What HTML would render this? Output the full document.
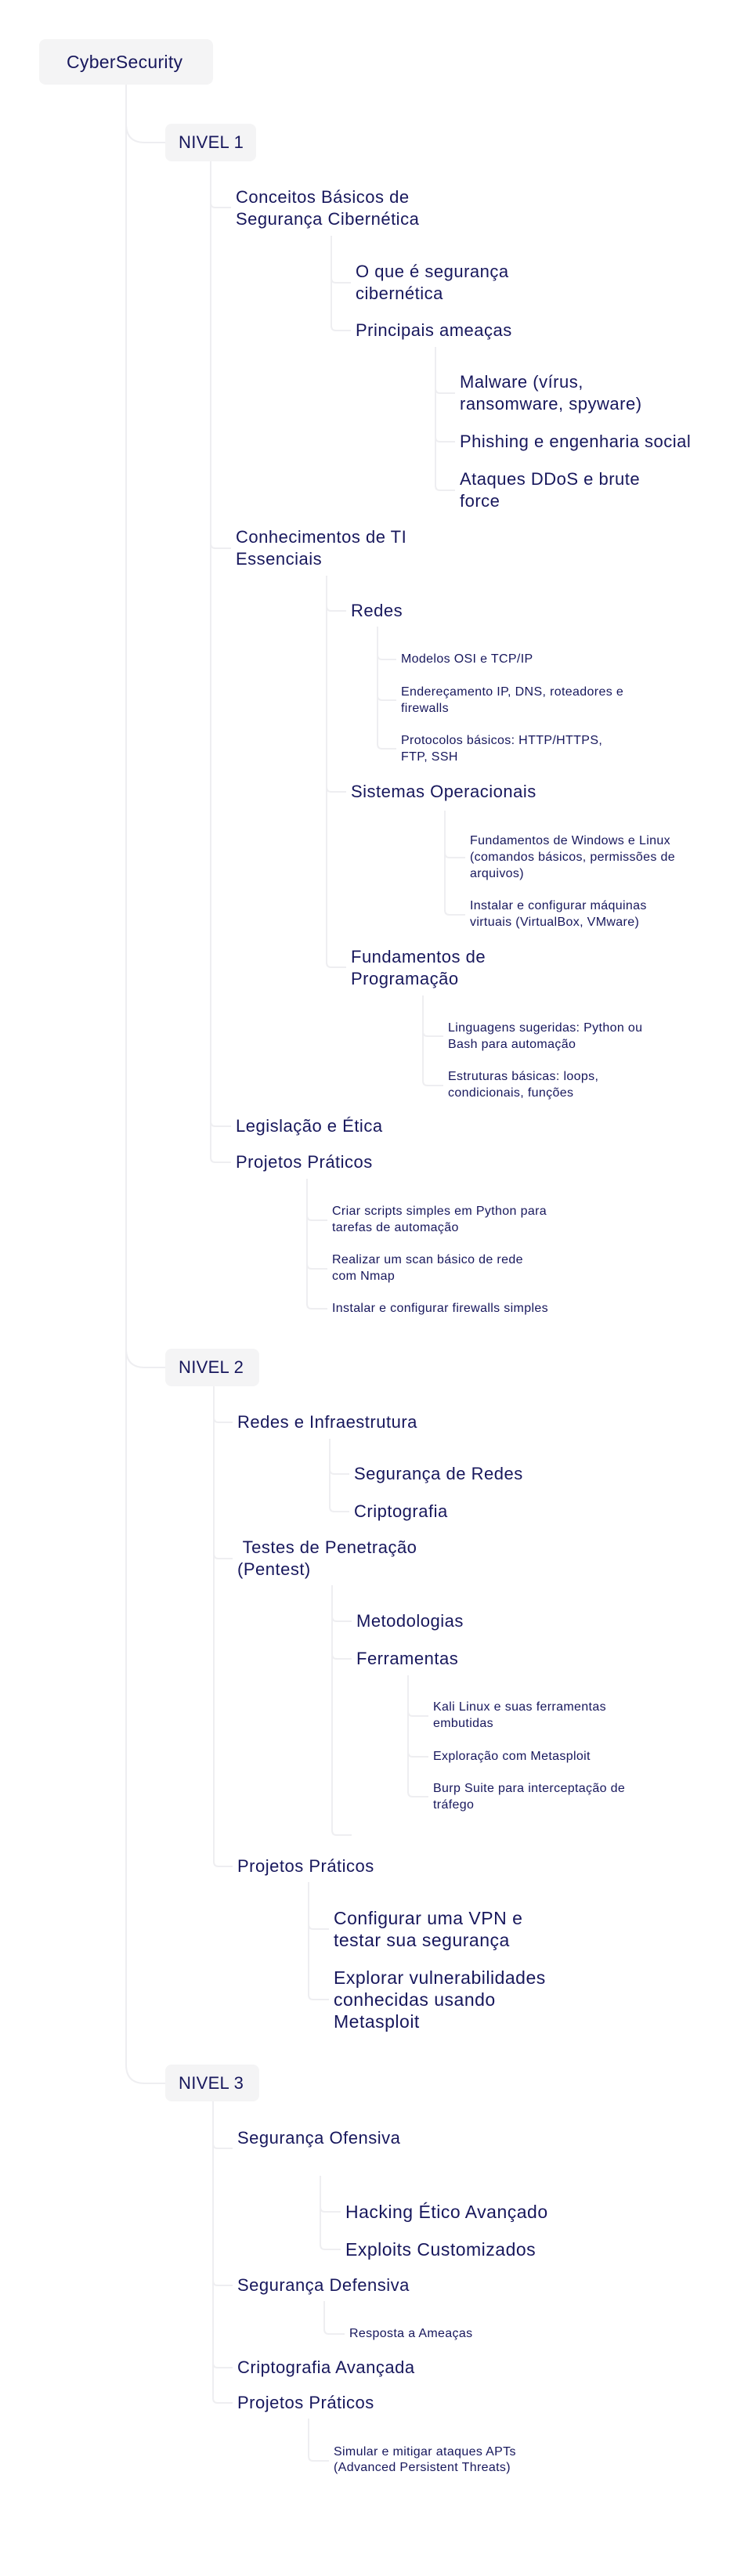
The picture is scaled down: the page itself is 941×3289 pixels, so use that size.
<!DOCTYPE html>
<html><head><meta charset="utf-8"><style>
html,body{margin:0;padding:0;background:#fff;}
body{width:941px;height:3289px;position:relative;overflow:hidden;font-family:"Liberation Sans",sans-serif;color:#17175c;}
.t{position:absolute;white-space:nowrap;}
.b{font-size:22px;line-height:28px;letter-spacing:0.5px;}
.s{font-size:16px;line-height:21px;letter-spacing:0.35px;}
.box{position:absolute;background:#f4f4f5;border-radius:8px;}
.bt{position:absolute;font-size:22px;line-height:30px;white-space:nowrap;letter-spacing:0.3px;}
svg{position:absolute;left:0;top:0;}
</style></head><body>
<svg width="941" height="3289" fill="none" stroke="#eeeef1" stroke-width="2">
<path d="M161 108 V2636 Q161 2660 185 2660 H211"/>
<path d="M161 158 Q161 182 185 182 H211"/>
<path d="M161 1722 Q161 1746 185 1746 H211"/>
<path d="M269 206 V1478 Q269 1484 275 1484 H295"/>
<path d="M269 259 Q269 265 275 265 H295"/>
<path d="M269 694 Q269 700 275 700 H295"/>
<path d="M269 1432 Q269 1438 275 1438 H295"/>
<path d="M423 301 V416 Q423 422 429 422 H448"/>
<path d="M423 355 Q423 361 429 361 H448"/>
<path d="M556 443 V620 Q556 626 562 626 H581"/>
<path d="M556 496 Q556 502 562 502 H581"/>
<path d="M556 558 Q556 564 562 564 H581"/>
<path d="M417 735 V1229 Q417 1235 423 1235 H442"/>
<path d="M417 774 Q417 780 423 780 H442"/>
<path d="M417 1005 Q417 1011 423 1011 H442"/>
<path d="M482 800 V950 Q482 956 488 956 H506"/>
<path d="M482 836 Q482 842 488 842 H506"/>
<path d="M482 888 Q482 894 488 894 H506"/>
<path d="M568 1035 V1162 Q568 1168 574 1168 H594"/>
<path d="M568 1089 Q568 1095 574 1095 H594"/>
<path d="M540 1271 V1380 Q540 1386 546 1386 H566"/>
<path d="M540 1317 Q540 1323 546 1323 H566"/>
<path d="M392 1505 V1665 Q392 1671 398 1671 H418"/>
<path d="M392 1552 Q392 1558 398 1558 H418"/>
<path d="M392 1614 Q392 1620 398 1620 H418"/>
<path d="M273 1770 V2377 Q273 2383 279 2383 H297"/>
<path d="M273 1810 Q273 1816 279 1816 H297"/>
<path d="M273 1984 Q273 1990 279 1990 H297"/>
<path d="M421 1837 V1924 Q421 1930 427 1930 H446"/>
<path d="M421 1876 Q421 1882 427 1882 H446"/>
<path d="M424 2024 V2337 Q424 2343 430 2343 H449"/>
<path d="M424 2064 Q424 2070 430 2070 H449"/>
<path d="M424 2112 Q424 2118 430 2118 H449"/>
<path d="M521 2139 V2288 Q521 2294 527 2294 H547"/>
<path d="M521 2185 Q521 2191 527 2191 H547"/>
<path d="M521 2237 Q521 2243 527 2243 H547"/>
<path d="M394 2403 V2547 Q394 2553 400 2553 H420"/>
<path d="M394 2457 Q394 2463 400 2463 H420"/>
<path d="M272 2683 V3062 Q272 3068 278 3068 H297"/>
<path d="M272 2737 Q272 2743 278 2743 H297"/>
<path d="M272 2912 Q272 2918 278 2918 H297"/>
<path d="M272 3017 Q272 3023 278 3023 H297"/>
<path d="M409 2778 V2866 Q409 2872 415 2872 H435"/>
<path d="M409 2818 Q409 2824 415 2824 H435"/>
<path d="M414 2938 V2974 Q414 2980 420 2980 H440"/>
<path d="M394 3088 V3136 Q394 3142 400 3142 H420"/>
</svg>

<div class="box" style="left:50px;top:50px;width:222px;height:58px;"></div>
<div class="bt" style="left:85px;top:64px;font-size:23px;">CyberSecurity</div>
<div class="box" style="left:211px;top:158px;width:116px;height:48px;"></div>
<div class="bt" style="left:228px;top:167px;">NIVEL 1</div>
<div class="box" style="left:211px;top:1722px;width:120px;height:48px;"></div>
<div class="bt" style="left:228px;top:1731px;">NIVEL 2</div>
<div class="box" style="left:211px;top:2636px;width:120px;height:47px;"></div>
<div class="bt" style="left:228px;top:2645px;">NIVEL 3</div>

<div class="t b" style="left:301px;top:238px;">Conceitos Básicos de<br>Segurança Cibernética</div>
<div class="t b" style="left:454px;top:333px;">O que é segurança<br>cibernética</div>
<div class="t b" style="left:454px;top:408px;">Principais ameaças</div>
<div class="t b" style="left:587px;top:474px;">Malware (vírus,<br>ransomware, spyware)</div>
<div class="t b" style="left:587px;top:550px;">Phishing e engenharia social</div>
<div class="t b" style="left:587px;top:598px;">Ataques DDoS e brute<br>force</div>
<div class="t b" style="left:301px;top:672px;">Conhecimentos de TI<br>Essenciais</div>
<div class="t b" style="left:448px;top:766px;">Redes</div>
<div class="t s" style="left:512px;top:831px;">Modelos OSI e TCP/IP</div>
<div class="t s" style="left:512px;top:873px;">Endereçamento IP, DNS, roteadores e<br>firewalls</div>
<div class="t s" style="left:512px;top:935px;">Protocolos básicos: HTTP/HTTPS,<br>FTP, SSH</div>
<div class="t b" style="left:448px;top:997px;">Sistemas Operacionais</div>
<div class="t s" style="left:600px;top:1063px;">Fundamentos de Windows e Linux<br>(comandos básicos, permissões de<br>arquivos)</div>
<div class="t s" style="left:600px;top:1146px;">Instalar e configurar máquinas<br>virtuais (VirtualBox, VMware)</div>
<div class="t b" style="left:448px;top:1208px;">Fundamentos de<br>Programação</div>
<div class="t s" style="left:572px;top:1302px;">Linguagens sugeridas: Python ou<br>Bash para automação</div>
<div class="t s" style="left:572px;top:1364px;">Estruturas básicas: loops,<br>condicionais, funções</div>
<div class="t b" style="left:301px;top:1424px;">Legislação e Ética</div>
<div class="t b" style="left:301px;top:1470px;">Projetos Práticos</div>
<div class="t s" style="left:424px;top:1536px;">Criar scripts simples em Python para<br>tarefas de automação</div>
<div class="t s" style="left:424px;top:1598px;">Realizar um scan básico de rede<br>com Nmap</div>
<div class="t s" style="left:424px;top:1660px;">Instalar e configurar firewalls simples</div>

<div class="t b" style="left:303px;top:1802px;">Redes e Infraestrutura</div>
<div class="t b" style="left:452px;top:1868px;">Segurança de Redes</div>
<div class="t b" style="left:452px;top:1916px;">Criptografia</div>
<div class="t b" style="left:303px;top:1962px;">&nbsp;Testes de Penetração<br>(Pentest)</div>
<div class="t b" style="left:455px;top:2056px;">Metodologias</div>
<div class="t b" style="left:455px;top:2104px;">Ferramentas</div>
<div class="t s" style="left:553px;top:2169px;">Kali Linux e suas ferramentas<br>embutidas</div>
<div class="t s" style="left:553px;top:2232px;">Exploração com Metasploit</div>
<div class="t s" style="left:553px;top:2273px;">Burp Suite para interceptação de<br>tráfego</div>
<div class="t b" style="left:303px;top:2369px;">Projetos Práticos</div>
<div class="t b" style="left:426px;top:2435px;font-size:23px;">Configurar uma VPN e<br>testar sua segurança</div>
<div class="t b" style="left:426px;top:2511px;font-size:23px;">Explorar vulnerabilidades<br>conhecidas usando<br>Metasploit</div>

<div class="t b" style="left:303px;top:2716px;">Segurança Ofensiva</div>
<div class="t b" style="left:441px;top:2810px;font-size:23px;">Hacking Ético Avançado</div>
<div class="t b" style="left:441px;top:2858px;font-size:23px;">Exploits Customizados</div>
<div class="t b" style="left:303px;top:2904px;">Segurança Defensiva</div>
<div class="t s" style="left:446px;top:2969px;">Resposta a Ameaças</div>
<div class="t b" style="left:303px;top:3009px;">Criptografia Avançada</div>
<div class="t b" style="left:303px;top:3054px;">Projetos Práticos</div>
<div class="t s" style="left:426px;top:3121px;line-height:20px;">Simular e mitigar ataques APTs<br>(Advanced Persistent Threats)</div>
</body></html>
